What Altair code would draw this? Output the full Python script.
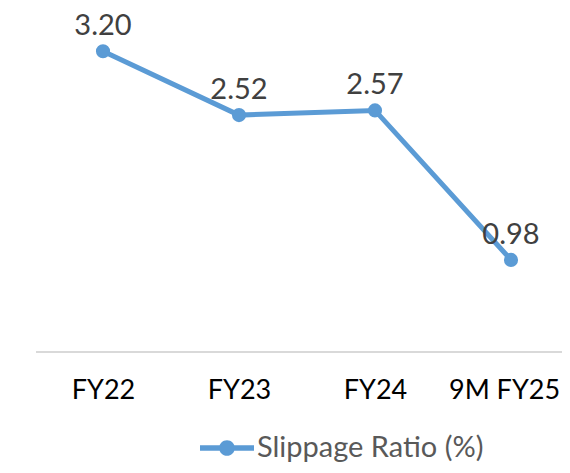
import altair as alt
import pandas as pd

categories = ["FY22", "FY23", "FY24", "9M FY25"]
values = [3.20, 2.52, 2.57, 0.98]
labels = ["3.20", "2.52", "2.57", "0.98"]
series = "Slippage Ratio (%)"

df = pd.DataFrame({"cat": categories, "val": values, "lab": labels, "series": [series] * len(categories)})

COLOR = "#5B9BD5"
FONT = "Lato"

legend_path = ("M-1,-0.1 H1 V0.1 H-1 Z "
               "M-0.29,0 A0.29,0.29 0 1,1 0.29,0 A0.29,0.29 0 1,1 -0.29,0 Z")

x = alt.X("cat:N", sort=categories, title=None,
          scale=alt.Scale(type="point", range=[68, 476], padding=0),
          axis=alt.Axis(labelAngle=0, ticks=False, domain=False,
                        labelFont=FONT, labelFontSize=27, labelColor="#000000",
                        labelPadding=25, grid=False,
                        labelOffset={"expr": "datum.label == '9M FY25' ? -7 : 0"}))
y = alt.Y("val:Q", scale=alt.Scale(domain=[0, 3.5]), axis=None, title=None)

base_line = alt.Chart(df).mark_rule(color="#d9d9d9", strokeWidth=1.5).encode(
    x=alt.value(1), x2=alt.value(527), y=alt.value(329))

line = alt.Chart(df).mark_line(strokeWidth=5).encode(
    x=x, y=y,
    color=alt.Color("series:N", scale=alt.Scale(range=[COLOR]), title=None,
                    legend=alt.Legend(orient="none", legendX=165, legendY=398,
                                      symbolType=legend_path, symbolSize=2916,
                                      symbolStrokeWidth=0, symbolFillColor=COLOR,
                                      labelFont=FONT, labelFontSize=29, labelColor="#595959",
                                      labelOffset=3, labelLimit=0))
)
points = alt.Chart(df).mark_point(filled=True, size=200, opacity=1, color=COLOR).encode(x=x, y=y)
text = alt.Chart(df).mark_text(dy=-25, font=FONT, fontSize=29, color="#404040").encode(
    x=x, y=y, text="lab:N")

chart = alt.layer(base_line, line, points, text).properties(
    width=527, height=329,
    autosize=alt.AutoSizeParams(type="none"),
    padding={"left": 27, "top": 15, "right": 0, "bottom": 113}
).configure_view(stroke=None)

chart.save("out.html", embed_options={"renderer": "svg", "actions": False})
